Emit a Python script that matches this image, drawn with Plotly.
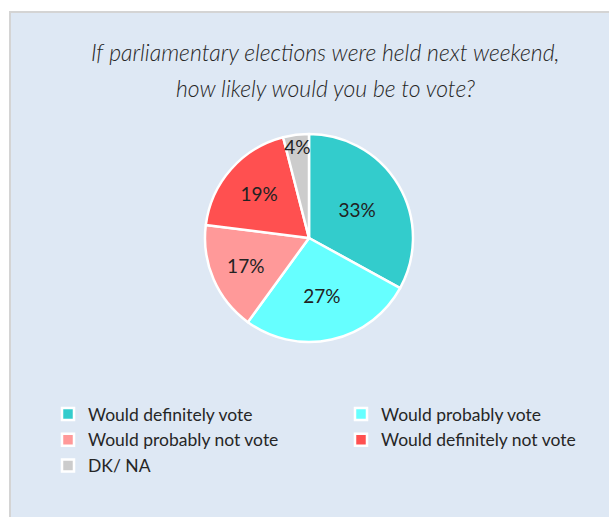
import plotly.graph_objects as go

W, H = 609, 517

categories = ["Would definitely vote", "Would probably vote", "Would probably not vote",
              "Would definitely not vote", "DK/ NA"]
values = [33, 27, 17, 19, 4]
colors = ["#33CCCC", "#66FFFF", "#FF9999", "#FF5050", "#CCCCCC"]
title_lines = ["If parliamentary elections were held next weekend,",
               "how likely would you be to vote?"]

PANEL = "#DEE8F4"
FONT = "Lato"

cx, cy, d = 309, 238, 208

fig = go.Figure(go.Pie(
    labels=categories,
    values=values,
    marker=dict(colors=colors, line=dict(color="white", width=2.5)),
    sort=False,
    direction="clockwise",
    rotation=0,
    texttemplate="%{value}%",
    textposition="inside",
    insidetextorientation="horizontal",
    textfont=dict(family=FONT, size=19, color="#222222"),
    domain=dict(x=[(cx - d / 2) / W, (cx + d / 2) / W],
                y=[1 - (cy + d / 2) / H, 1 - (cy - d / 2) / H]),
    hoverinfo="label+percent",
))

annotations = []
for line, ypx in zip(title_lines, [52, 88]):
    annotations.append(dict(
        text=line, xref="paper", yref="paper",
        x=325 / W, y=1 - ypx / H, xanchor="center", yanchor="middle",
        showarrow=False, align="center",
        font=dict(family=FONT, size=23, color="#262626", style="italic", weight=300)))

fig.update_layout(
    width=W, height=H,
    margin=dict(l=0, r=0, t=0, b=0, autoexpand=False),
    paper_bgcolor="white",
    showlegend=True,
    uniformtext=dict(mode="show", minsize=19),
    legend=dict(
        orientation="h",
        x=48 / W, xanchor="left",
        y=1 - 396 / H, yanchor="top",
        entrywidth=293 / W, entrywidthmode="fraction",
        font=dict(family=FONT, size=17.5, color="#262626"),
        bgcolor="rgba(0,0,0,0)",
        itemwidth=30,
        traceorder="normal",
    ),
    shapes=[
        dict(type="rect", xref="paper", yref="paper",
             x0=10 / W, x1=1.01, y0=-0.01, y1=1 - 12 / H,
             fillcolor=PANEL, line=dict(color="#D4D4D4", width=2), layer="below"),
    ],
    annotations=annotations,
)

fig.write_html("out.html", config={"displayModeBar": False},
               post_script="document.body.style.margin='0';")
